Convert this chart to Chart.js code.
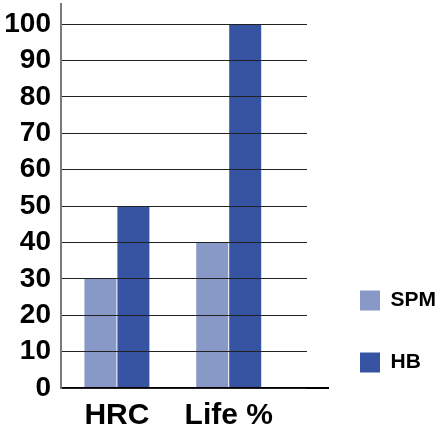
<!DOCTYPE html>
<html>
<head>
<meta charset="utf-8">
<script src="https://cdn.jsdelivr.net/npm/chart.js@4"></script>
<style>
  html, body { margin: 0; padding: 0; background: #fff; }
</style>
</head>
<body>
<canvas id="chartHardness" width="446" height="439"></canvas>
<script>
// Data
const categories = ["HRC", "Life %"];
const spmValues = [30, 40];
const hbValues = [50, 100];
const yTickValues = [0, 10, 20, 30, 40, 50, 60, 70, 80, 90, 100];

const colorSPM = "#8899c8";
const colorHB = "#3754a3";

Chart.defaults.font.family = "'Liberation Sans', Arial, sans-serif";
Chart.defaults.color = "#000";

// the base line runs a bit past the grid, like in the original
const baselineTail = {
	id: "baselineTail",
	afterDraw(chart) {
		const ctx = chart.ctx;
		const area = chart.chartArea;
		const y = Math.round(area.bottom - 1) + 1;
		ctx.save();
		ctx.strokeStyle = "#000";
		ctx.lineWidth = 2;
		ctx.beginPath();
		ctx.moveTo(area.right - 1, y);
		ctx.lineTo(area.right + 22, y);
		ctx.stroke();
		ctx.restore();
	}
};

const hardnessChart = new Chart(document.getElementById("chartHardness"), {
	type: "bar",
	data: {
		datasets: [{
			label: "SPM",
			data: spmValues.map((v, i) => ({ x: i, y: v })),
			backgroundColor: colorSPM
		}, {
			label: "HB",
			data: hbValues.map((v, i) => ({ x: i, y: v })),
			backgroundColor: colorHB
		}]
	},
	options: {
		responsive: false,
		animation: false,
		barPercentage: 0.97,
		categoryPercentage: 0.59,
		layout: {
			padding: { top: 4, right: 0, bottom: 0, left: 0 }
		},
		plugins: {
			tooltip: { enabled: false },
			legend: {
				position: "right",
				align: "start",
				maxWidth: 130,
				// empty title only pushes the items down
				title: { display: true, text: "", font: { size: 10 }, padding: { top: 233, bottom: 0 } },
				labels: {
					boxWidth: 20,
					boxHeight: 20,
					padding: 41,
					color: "#000",
					font: { size: 21, weight: "bold" }
				}
			}
		},
		scales: {
			x: {
				type: "linear",
				min: -0.5,
				max: 1.7,
				offset: false,
				afterBuildTicks: s => { s.ticks = categories.map((c, i) => ({ value: i })); },
				afterFit: s => { s.height = 51; s.paddingLeft = 0; s.paddingRight = 0; },
				grid: { display: false, drawTicks: false },
				border: { color: "#000", width: 2, z: 1 },
				ticks: {
					callback: v => categories[v],
					padding: 10,
					maxRotation: 0,
					font: { size: 30, weight: "bold" }
				}
			},
			y: {
				type: "linear",
				min: 0,
				max: 105.5,
				afterBuildTicks: s => { s.ticks = yTickValues.map(v => ({ value: v })); },
				afterFit: s => { s.width = 61; s.paddingTop = 0; s.paddingBottom = 0; },
				grid: { color: "#222", lineWidth: 1, drawTicks: false, z: 1 },
				border: { color: "#7a7a7a", width: 2, z: 1 },
				ticks: {
					padding: 10,
					font: { size: 28, weight: "bold" }
				}
			},
			gap: {
				type: "linear",
				position: "right",
				display: true,
				grid: { display: false },
				border: { display: false },
				ticks: { display: false },
				afterFit: s => { s.width = 12; }
			}
		}
	},
	plugins: [baselineTail]
});
</script>
</body>
</html>
